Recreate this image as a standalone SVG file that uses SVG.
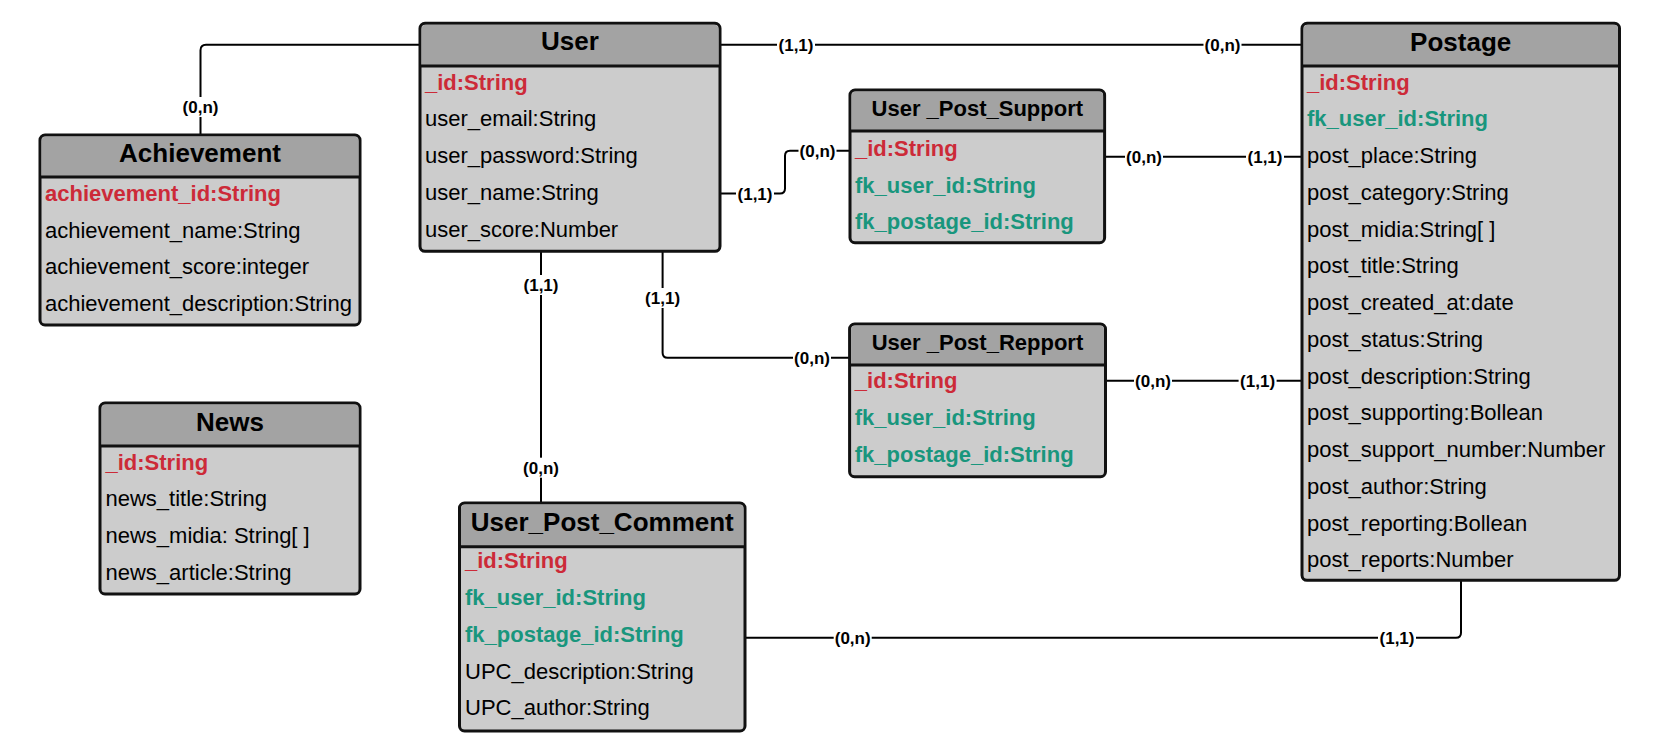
<svg xmlns="http://www.w3.org/2000/svg" width="1654" height="755" viewBox="0 0 1654 755">
<style>
.body{fill:#cccccc;stroke:#111;stroke-width:3}
.head{fill:#a3a3a3}
.sep{stroke:#111;stroke-width:3}
.t{font-family:"Liberation Sans",Arial,sans-serif;font-weight:bold;font-size:26px;fill:#000;text-anchor:middle}
.ts{font-family:"Liberation Sans",Arial,sans-serif;font-weight:bold;font-size:22px;fill:#000;text-anchor:middle}
.a{font-family:"Liberation Sans",Arial,sans-serif;font-size:22px;fill:#000}
.pk{font-weight:bold;fill:#cc2a38}
.fk{font-weight:bold;fill:#19967d}
.c{fill:none;stroke:#000;stroke-width:2}
.bg{fill:#fff}
.l{font-family:"Liberation Sans",Arial,sans-serif;font-weight:bold;font-size:17px;fill:#000;text-anchor:middle}
</style>
<g id="connectors">
<path class="c" d="M420,44.7 H206 Q200.5,44.7 200.5,50.2 V135"/>
<path class="c" d="M720,44.7 H1302"/>
<path class="c" d="M720,193.5 H780 Q785,193.5 785,188.5 V155.7 Q785,150.7 790,150.7 H850"/>
<path class="c" d="M1104.6,156.7 H1302"/>
<path class="c" d="M662.6,251 V352.7 Q662.6,357.7 667.6,357.7 H849.6"/>
<path class="c" d="M1105.5,380.7 H1302"/>
<path class="c" d="M541,251 V503"/>
<path class="c" d="M745,637.7 H1456 Q1461,637.7 1461,632.7 V580"/>
<rect class="bg" x="181.5" y="97" width="38" height="20"/>
<rect class="bg" x="777" y="34.7" width="38" height="20"/>
<rect class="bg" x="1203.5" y="34.7" width="38" height="20"/>
<rect class="bg" x="736" y="183.5" width="38" height="20"/>
<rect class="bg" x="798.5" y="140.7" width="38" height="20"/>
<rect class="bg" x="1125" y="146.7" width="38" height="20"/>
<rect class="bg" x="1246" y="146.7" width="38" height="20"/>
<rect class="bg" x="643.6" y="288" width="38" height="20"/>
<rect class="bg" x="793" y="347.7" width="38" height="20"/>
<rect class="bg" x="1134" y="370.7" width="38" height="20"/>
<rect class="bg" x="1238.6" y="370.7" width="38" height="20"/>
<rect class="bg" x="522" y="275" width="38" height="20"/>
<rect class="bg" x="522" y="457.7" width="38" height="20"/>
<rect class="bg" x="833.7" y="627.7" width="38" height="20"/>
<rect class="bg" x="1378" y="627.7" width="38" height="20"/>
<text class="l" x="200.5" y="113">(0,n)</text>
<text class="l" x="796" y="50.7">(1,1)</text>
<text class="l" x="1222.5" y="50.7">(0,n)</text>
<text class="l" x="755" y="199.5">(1,1)</text>
<text class="l" x="817.5" y="156.7">(0,n)</text>
<text class="l" x="1144" y="162.7">(0,n)</text>
<text class="l" x="1265" y="162.7">(1,1)</text>
<text class="l" x="662.6" y="304">(1,1)</text>
<text class="l" x="812" y="363.7">(0,n)</text>
<text class="l" x="1153" y="386.7">(0,n)</text>
<text class="l" x="1257.6" y="386.7">(1,1)</text>
<text class="l" x="541" y="291">(1,1)</text>
<text class="l" x="541" y="473.7">(0,n)</text>
<text class="l" x="852.7" y="643.7">(0,n)</text>
<text class="l" x="1397" y="643.7">(1,1)</text>
</g>
<g id="user">
<rect class="body" x="420" y="23.3" width="300" height="228" rx="5"/>
<path class="head" d="M421.5,66 V29.8 Q421.5,24.8 426.5,24.8 H713.5 Q718.5,24.8 718.5,29.8 V66 Z"/>
<line class="sep" x1="420" y1="66" x2="720" y2="66"/>
<text class="t" x="570" y="50">User</text>
<text class="a pk" x="425" y="89.5">_id:String</text>
<text class="a" x="425" y="126.25">user_email:String</text>
<text class="a" x="425" y="163">user_password:String</text>
<text class="a" x="425" y="199.75">user_name:String</text>
<text class="a" x="425" y="236.5">user_score:Number</text>
</g>
<g id="achievement">
<rect class="body" x="40" y="135" width="320" height="190" rx="5"/>
<path class="head" d="M41.5,177 V141.5 Q41.5,136.5 46.5,136.5 H353.5 Q358.5,136.5 358.5,141.5 V177 Z"/>
<line class="sep" x1="40" y1="177" x2="360" y2="177"/>
<text class="t" x="200" y="162">Achievement</text>
<text class="a pk" x="45" y="200.75">achievement_id:String</text>
<text class="a" x="45" y="237.5">achievement_name:String</text>
<text class="a" x="45" y="274.25">achievement_score:integer</text>
<text class="a" x="45" y="311">achievement_description:String</text>
</g>
<g id="news">
<rect class="body" x="100" y="403" width="260" height="191" rx="5"/>
<path class="head" d="M101.5,446 V409.5 Q101.5,404.5 106.5,404.5 H353.5 Q358.5,404.5 358.5,409.5 V446 Z"/>
<line class="sep" x1="100" y1="446" x2="360" y2="446"/>
<text class="t" x="230" y="430.5">News</text>
<text class="a pk" x="105.5" y="469.5">_id:String</text>
<text class="a" x="105.5" y="506.25">news_title:String</text>
<text class="a" x="105.5" y="543">news_midia: String[ ]</text>
<text class="a" x="105.5" y="579.75">news_article:String</text>
</g>
<g id="user_post_comment">
<rect class="body" x="459.5" y="503" width="285.5" height="228" rx="5"/>
<path class="head" d="M461,546.7 V509.5 Q461,504.5 466,504.5 H738.5 Q743.5,504.5 743.5,509.5 V546.7 Z"/>
<line class="sep" x1="459.5" y1="546.7" x2="745" y2="546.7"/>
<text class="t" x="602.3" y="531.3">User_Post_Comment</text>
<text class="a pk" x="465" y="568.4">_id:String</text>
<text class="a fk" x="465" y="605.15">fk_user_id:String</text>
<text class="a fk" x="465" y="641.9">fk_postage_id:String</text>
<text class="a" x="465" y="678.65">UPC_description:String</text>
<text class="a" x="465" y="715.4">UPC_author:String</text>
</g>
<g id="user_post_support">
<rect class="body" x="850" y="90" width="254.6" height="152.7" rx="5"/>
<path class="head" d="M851.5,131 V96.5 Q851.5,91.5 856.5,91.5 H1098.1 Q1103.1,91.5 1103.1,96.5 V131 Z"/>
<line class="sep" x1="850" y1="131" x2="1104.6" y2="131"/>
<text class="ts" x="977.3" y="115.75">User _Post_Support</text>
<text class="a pk" x="855" y="155.75">_id:String</text>
<text class="a fk" x="855" y="192.5">fk_user_id:String</text>
<text class="a fk" x="855" y="229.25">fk_postage_id:String</text>
</g>
<g id="user_post_repport">
<rect class="body" x="849.6" y="324" width="255.9" height="152.7" rx="5"/>
<path class="head" d="M851.1,365 V330.5 Q851.1,325.5 856.1,325.5 H1099 Q1104,325.5 1104,330.5 V365 Z"/>
<line class="sep" x1="849.6" y1="365" x2="1105.5" y2="365"/>
<text class="ts" x="977.5" y="350">User _Post_Repport</text>
<text class="a pk" x="854.8" y="388.4">_id:String</text>
<text class="a fk" x="854.8" y="425.15">fk_user_id:String</text>
<text class="a fk" x="854.8" y="461.9">fk_postage_id:String</text>
</g>
<g id="postage">
<rect class="body" x="1302" y="23.3" width="317.5" height="557" rx="5"/>
<path class="head" d="M1303.5,66 V29.8 Q1303.5,24.8 1308.5,24.8 H1613 Q1618,24.8 1618,29.8 V66 Z"/>
<line class="sep" x1="1302" y1="66" x2="1619.5" y2="66"/>
<text class="t" x="1460.7" y="51">Postage</text>
<text class="a pk" x="1307" y="89.5">_id:String</text>
<text class="a fk" x="1307" y="126.25">fk_user_id:String</text>
<text class="a" x="1307" y="163">post_place:String</text>
<text class="a" x="1307" y="199.75">post_category:String</text>
<text class="a" x="1307" y="236.5">post_midia:String[ ]</text>
<text class="a" x="1307" y="273.25">post_title:String</text>
<text class="a" x="1307" y="310">post_created_at:date</text>
<text class="a" x="1307" y="346.75">post_status:String</text>
<text class="a" x="1307" y="383.5">post_description:String</text>
<text class="a" x="1307" y="420.25">post_supporting:Bollean</text>
<text class="a" x="1307" y="457">post_support_number:Number</text>
<text class="a" x="1307" y="493.75">post_author:String</text>
<text class="a" x="1307" y="530.5">post_reporting:Bollean</text>
<text class="a" x="1307" y="567.25">post_reports:Number</text>
</g>
</svg>
